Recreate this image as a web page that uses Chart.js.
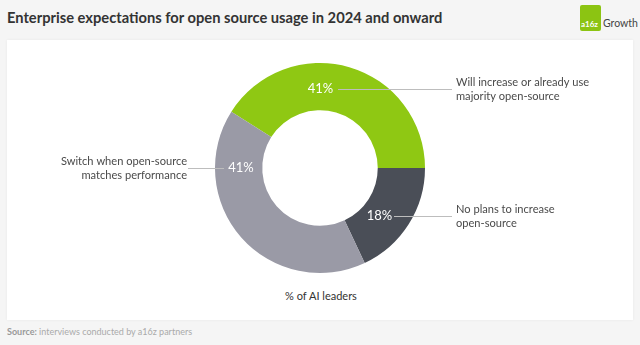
<!DOCTYPE html>
<html>
<head>
<meta charset="utf-8">
<script src="https://cdn.jsdelivr.net/npm/chart.js@4.4.1/dist/chart.umd.min.js"></script>
<style>
  html, body { margin: 0; padding: 0; }
  body { width: 640px; height: 345px; background: #f5f5f5; position: relative; overflow: hidden; font-family: Lato, "Open Sans", sans-serif; }
  #title { position: absolute; left: 7px; top: 8px; font-size: 14.7px; font-weight: 700; color: #333; }
  #logo { position: absolute; left: 580px; top: 5px; height: 26px; }
  #logo .box { position: absolute; left: 0; top: 0; width: 21px; height: 26px; background: #8cc412; border-radius: 2px; }
  #logo .box span { position: absolute; left: 1px; bottom: 2px; color: #fff; font-size: 8px; font-weight: 700; }
  #logo .txt { position: absolute; left: 23px; top: 12px; font-size: 10.5px; color: #444; }
  #card { position: absolute; left: 7px; top: 40px; width: 626px; height: 280px; background: #fff; box-shadow: 0 0 3px rgba(0,0,0,0.06); }
  #wrap { position: absolute; left: 0; top: 0; width: 640px; height: 345px; }
  #axisLabel { position: absolute; left: 0; width: 642px; top: 289px; text-align: center; font-size: 11px; color: #333; }
  #source { position: absolute; left: 7px; top: 326px; font-size: 9px; color: #aaa; }
  #source b { color: #999; }
</style>
</head>
<body>
<div id="title">Enterprise expectations for open source usage in 2024 and onward</div>
<div id="logo"><div class="box"><span>a16z</span></div><div class="txt">Growth</div></div>
<div id="card"></div>
<div id="axisLabel">% of AI leaders</div>
<div id="source"><b>Source:</b> interviews conducted by a16z partners</div>
<div id="wrap"><canvas id="chart"></canvas></div>
<script>
// data
var categories = [
  ['Will increase or already use', 'majority open-source'],
  ['No plans to increase', 'open-source'],
  ['Switch when open-source', 'matches performance']
];
var shares = [41, 18, 41];
var sliceColors = ['#8fc813', '#4a4e57', '#9a9aa6'];

// where each percentage sits (relative to the centre) and where its note goes
var callouts = [
  { dx: 0.5,  dy: -79, side: 'right', lineFrom: 338, lineTo: 452 },
  { dx: 59.5, dy: 48,  side: 'right', lineFrom: 394, lineTo: 452 },
  { dx: -79,  dy: 0,   side: 'left',  lineFrom: 188, lineTo: 224 }
];

var calloutPlugin = {
  id: 'callouts',
  afterDatasetsDraw: function(chart) {
    var ctx = chart.ctx;
    var arc = chart.getDatasetMeta(0).data[0];
    var cx = arc.x, cy = arc.y;
    ctx.save();
    shares.forEach(function(v, i) {
      var c = callouts[i];
      var lx = cx + c.dx, ly = cy + c.dy;
      // leader line
      ctx.strokeStyle = '#bdbdbd';
      ctx.lineWidth = 1;
      ctx.beginPath();
      ctx.moveTo(c.lineFrom, Math.round(ly) + 0.5);
      ctx.lineTo(c.lineTo, Math.round(ly) + 0.5);
      ctx.stroke();
      // percentage
      ctx.fillStyle = '#fff';
      ctx.font = '13px Lato, "Open Sans", sans-serif';
      ctx.textAlign = 'center';
      ctx.textBaseline = 'middle';
      ctx.fillText(v + '%', lx, ly);
      // category note
      ctx.fillStyle = '#4a4a4a';
      ctx.font = '11.1px Lato, "Open Sans", sans-serif';
      var tx = c.side === 'right' ? c.lineTo + 4 : c.lineFrom - 1;
      ctx.textAlign = c.side === 'right' ? 'left' : 'right';
      var lines = categories[i];
      lines.forEach(function(t, k) {
        ctx.fillText(t, tx, ly - 7 + k * 14.5);
      });
    });
    ctx.restore();
  }
};

var ctx = document.getElementById('chart').getContext('2d');
var donut = new Chart(ctx, {
  type: 'doughnut',
  data: {
    labels: categories.map(function(l) { return l.join(' '); }),
    datasets: [{
      data: shares,
      backgroundColor: sliceColors,
      borderWidth: 0
    }]
  },
  options: {
    responsive: true,
    maintainAspectRatio: false,
    animation: false,
    rotation: -57.6,
    cutout: '55%',
    layout: { padding: { top: 63, bottom: 72, left: 215, right: 215 } },
    plugins: {
      legend: { display: false },
      tooltip: { enabled: false }
    }
  },
  plugins: [calloutPlugin]
});
</script>
</body>
</html>
